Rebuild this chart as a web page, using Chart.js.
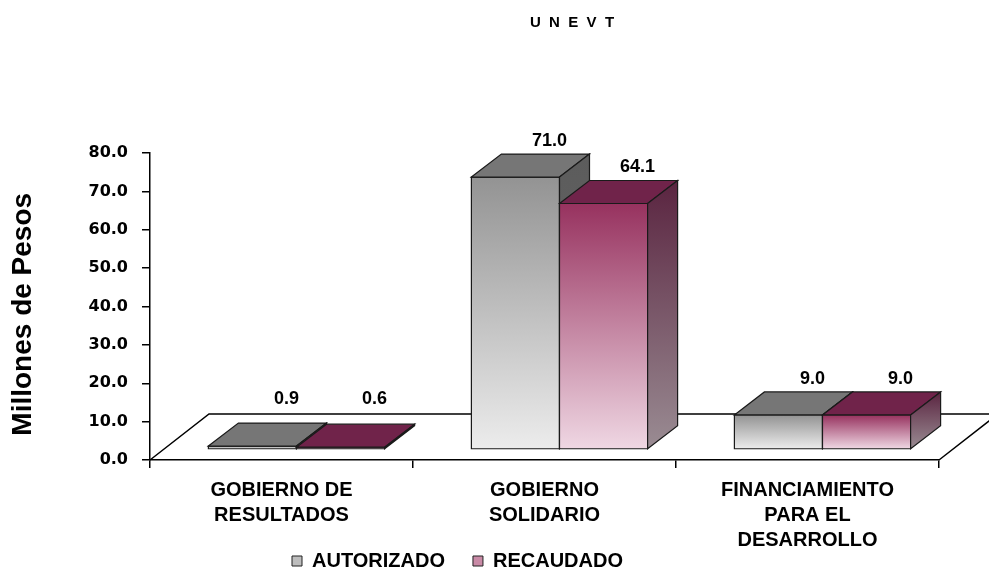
<!DOCTYPE html>
<html>
<head>
<meta charset="utf-8">
<script src="https://cdn.jsdelivr.net/npm/chart.js@4.4.1/dist/chart.umd.min.js"></script>
<style>
html,body{margin:0;padding:0;background:#fff;}
#wrap{width:989px;height:570px;position:relative;}
</style>
</head>
<body>
<div id="wrap"><canvas id="c" width="989" height="570"></canvas></div>
<script>
// ---- data ----
const categories = [['GOBIERNO DE', 'RESULTADOS'], ['GOBIERNO', 'SOLIDARIO'], ['FINANCIAMIENTO', 'PARA EL', 'DESARROLLO']];
const seriesNames = ['AUTORIZADO', 'RECAUDADO'];
const autorizado = [0.9, 71.0, 9.0];
const recaudado = [0.6, 64.1, 9.0];
const chartTitle = 'U  N  E  V  T';
const yAxisTitle = 'Millones de Pesos  ';
const yMin = 0, yMax = 80, yStep = 10;

// ---- style ----
const SANS = '"Liberation Sans", Arial, Helvetica, sans-serif';
const WIDE = '"DejaVu Sans", Verdana, sans-serif';
const FLOOR_DX = 59, FLOOR_DY = -46;
const BAR_DX = 30, BAR_DY = -23;
const BAR_SHIFT_X = 15, BAR_SHIFT_Y = -10.5;
const LEGEND_PAD = 28, LEGEND_FONT = 20, LEGEND_BOX = 10;
const LEGEND_HEIGHT = LEGEND_FONT + LEGEND_PAD + 10;
const palettes = [
  {frontTop: '#939393', frontBottom: '#ececec', top: '#767676', sideTop: '#5c5c5c', sideBottom: '#686868', legend: '#bdbdbd'},
  {frontTop: '#97325f', frontBottom: '#efd7e3', top: '#70234a', sideTop: '#5a2440', sideBottom: '#9a8c93', legend: '#c98aa6'}
];

const bars3d = {
  id: 'bars3d',
  afterLayout(chart) {
    const t = chart.titleBlock;
    if (t) { const s = 572 - (t.left + t.right) / 2; t.left += s; t.right += s; }
    const lg = chart.legend;
    if (lg) {
      const h = lg.height;
      lg.left = 292 - lg.options.labels.padding;
      lg.right = chart.width;
      lg.top = 523;
      lg.bottom = lg.top + h;
    }
  },
  beforeDatasetsDraw(chart) {
    const {ctx, chartArea: a} = chart;
    ctx.save();
    ctx.strokeStyle = '#000';
    ctx.lineWidth = 1.5;
    ctx.beginPath();
    ctx.moveTo(a.left, a.bottom);
    ctx.lineTo(a.left + FLOOR_DX, a.bottom + FLOOR_DY);
    ctx.lineTo(chart.width + 20, a.bottom + FLOOR_DY);
    ctx.moveTo(a.right, a.bottom);
    ctx.lineTo(a.right + FLOOR_DX, a.bottom + FLOOR_DY);
    ctx.stroke();
    ctx.restore();
  },
  afterDatasetsDraw(chart) {
    const ctx = chart.ctx;
    const n = chart.data.labels.length;
    const labels = [];
    ctx.save();
    ctx.lineJoin = 'miter';
    for (let i = 0; i < n; i++) {
      chart.data.datasets.forEach((ds, d) => {
        const meta = chart.getDatasetMeta(d);
        const el = meta.data[i];
        const p = el.getProps(['x', 'y', 'base', 'width'], true);
        const pal = palettes[d];
        const x0 = p.x - p.width / 2 + BAR_SHIFT_X, x1 = p.x + p.width / 2 + BAR_SHIFT_X;
        const yt = p.y + BAR_SHIFT_Y, yb = p.base + BAR_SHIFT_Y;
        ctx.strokeStyle = '#1a1a1a';
        ctx.lineWidth = 1.2;
        // front
        let g = ctx.createLinearGradient(0, yt, 0, yb);
        g.addColorStop(0, pal.frontTop); g.addColorStop(1, pal.frontBottom);
        ctx.fillStyle = g;
        ctx.beginPath(); ctx.rect(x0, yt, x1 - x0, yb - yt); ctx.fill(); ctx.stroke();
        // top
        ctx.fillStyle = pal.top;
        ctx.beginPath();
        ctx.moveTo(x0, yt); ctx.lineTo(x0 + BAR_DX, yt + BAR_DY); ctx.lineTo(x1 + BAR_DX, yt + BAR_DY); ctx.lineTo(x1, yt);
        ctx.closePath(); ctx.fill(); ctx.stroke();
        // side
        g = ctx.createLinearGradient(0, yt + BAR_DY, 0, yb);
        g.addColorStop(0, pal.sideTop); g.addColorStop(1, pal.sideBottom);
        ctx.fillStyle = g;
        ctx.beginPath();
        ctx.moveTo(x1, yt); ctx.lineTo(x1 + BAR_DX, yt + BAR_DY); ctx.lineTo(x1 + BAR_DX, yb + BAR_DY); ctx.lineTo(x1, yb);
        ctx.closePath(); ctx.fill(); ctx.stroke();
        labels.push({x: (x0 + x1) / 2 + BAR_DX + 4, y: Math.min(yt + BAR_DY - 13, yb + BAR_DY - 27), v: ds.data[i]});
      });
    }
    ctx.fillStyle = '#000';
    ctx.font = 'bold 18px ' + SANS;
    ctx.textAlign = 'center';
    ctx.textBaseline = 'middle';
    labels.forEach(l => ctx.fillText(l.v.toFixed(1), l.x, l.y));
    ctx.restore();
  }
};

new Chart(document.getElementById('c'), {
  type: 'bar',
  data: {
    labels: categories,
    datasets: [
      {label: seriesNames[0], data: autorizado, backgroundColor: 'rgba(0,0,0,0)', borderWidth: 0},
      {label: seriesNames[1], data: recaudado, backgroundColor: 'rgba(0,0,0,0)', borderWidth: 0}
    ]
  },
  options: {
    responsive: false,
    animation: false,
    devicePixelRatio: 1,
    categoryPercentage: 0.67,
    barPercentage: 1.0,
    layout: {padding: {left: 0, right: 50, top: 0, bottom: -LEGEND_HEIGHT}},
    plugins: {
      title: {
        display: true, text: chartTitle, color: '#000',
        font: {family: SANS, size: 15, weight: 'bold', lineHeight: 1.2},
        padding: {top: 14, bottom: 121}
      },
      legend: {
        position: 'bottom', align: 'start',
        labels: {
          boxWidth: LEGEND_BOX, boxHeight: LEGEND_BOX, padding: LEGEND_PAD, color: '#000',
          font: {family: SANS, size: LEGEND_FONT, weight: 'bold'},
          generateLabels: (chart) => chart.data.datasets.map((ds, i) => ({
            text: ds.label, fillStyle: palettes[i].legend, strokeStyle: '#222', lineWidth: 1,
            hidden: false, datasetIndex: i, fontColor: '#000'
          }))
        }
      },
      tooltip: {enabled: false}
    },
    scales: {
      x: {
        grid: {display: true, drawOnChartArea: false, drawTicks: true, tickLength: 8, color: '#000', lineWidth: 1.5, offset: true},
        border: {display: true, color: '#000', width: 1.5},
        ticks: {color: '#000', padding: 10, maxRotation: 0, autoSkip: false,
          font: {family: SANS, size: 20, weight: 'bold', lineHeight: 1.25}},
        afterFit: (s) => { s.height = 110; }
      },
      y: {
        min: yMin, max: yMax,
        grid: {drawOnChartArea: false, drawTicks: true, tickLength: 8, color: '#000', lineWidth: 1.5},
        border: {display: true, color: '#000', width: 1.5},
        ticks: {stepSize: yStep, color: '#000', padding: 14,
          font: {family: WIDE, size: 16, weight: 'bold'},
          callback: (v) => Number(v).toFixed(1)},
        title: {display: true, text: yAxisTitle, color: '#000', padding: {top: 6, bottom: 0},
          font: {family: SANS, size: 28, weight: 'bold', lineHeight: 1.2}},
        afterFit: (s) => { s.width = 150; }
      }
    }
  },
  plugins: [bars3d]
});
</script>
</body>
</html>
